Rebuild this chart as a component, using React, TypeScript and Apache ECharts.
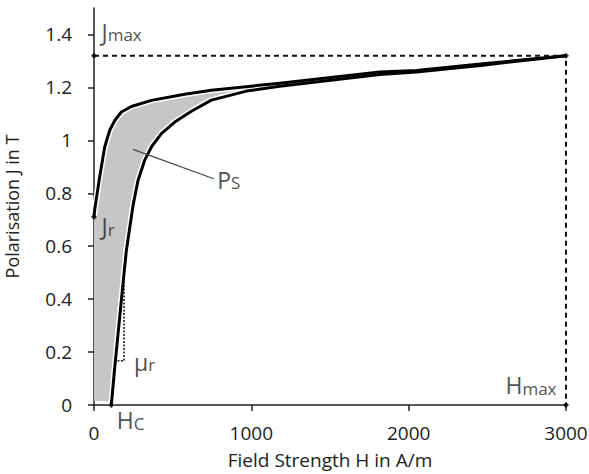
import React, { useEffect, useRef } from "react";
import * as echarts from "echarts";

// Upper (descending) branch of the loop: field strength H in A/m, polarisation J in T
const upperH = [0, 4, 36, 68, 100, 132, 174, 238, 365, 576, 746, 1180, 1816, 2049, 2471, 3000];
const upperJ = [0.71, 0.736, 0.862, 0.975, 1.038, 1.075, 1.107, 1.128, 1.151, 1.174, 1.189, 1.216, 1.258, 1.264, 1.289, 1.32];

// Lower (ascending) branch of the loop
const lowerH = [110, 132, 153, 174, 191, 206, 227, 250, 280, 322, 365, 428, 513, 619, 746, 969, 1180, 1816, 2049, 2471, 3000];
const lowerJ = [0, 0.143, 0.27, 0.396, 0.498, 0.585, 0.67, 0.76, 0.849, 0.925, 0.975, 1.025, 1.069, 1.11, 1.152, 1.186, 1.204, 1.249, 1.258, 1.284, 1.32];

// Bottom edge of the shaded area
const fillBaseH = [0, 112];
const fillBaseJ = [0.015, 0.015];

// Reference values
const Jmax = 1.32;
const Hmax = 3000;
const Jr = 0.71;
const Hc = 110;

// μr construction (dotted)
const muH = [191, 191, 150];
const muJ = [0.48, 0.167, 0.167];

// Ps leader line
const psH = [248, 761];
const psJ = [0.966, 0.855];

// Axis ticks
const yTicks = [0, 0.2, 0.4, 0.6, 0.8, 1, 1.2, 1.4];
const xTicks = [0, 1000, 2000, 3000];

const FONT = "Open Sans";
const TXT = "#222";

const zip = (a: number[], b: number[]) => a.map((v, i) => [v, b[i]]);

export default function App() {
  const ref = useRef<HTMLDivElement>(null);
  useEffect(() => {
    document.body.style.margin = "0";
    if (!ref.current) return;
    const chart = echarts.init(ref.current, undefined, { renderer: "svg" });

    const upper = zip(upperH, upperJ);
    const lower = zip(lowerH, lowerJ);
    const poly = [...upper].reverse().concat(zip(fillBaseH, fillBaseJ), lower.slice(1));

    const rich = {
      m: { fontSize: 23, lineHeight: 24, verticalAlign: "bottom", fontFamily: FONT, color: TXT },
      s: { fontSize: 17, lineHeight: 10, verticalAlign: "bottom", fontFamily: FONT, color: TXT },
    };
    const lab = (txt: string, pos: number[], align = "left") => ({
      show: true,
      formatter: txt,
      position: pos,
      align,
      verticalAlign: "top",
      color: TXT,
      fontFamily: FONT,
      rich,
    });

    const option: any = {
      animation: false,
      grid: { left: 94, right: 23, top: 8, bottom: 69, outerBoundsMode: "none" },
      xAxis: {
        type: "value",
        min: 0,
        max: 3000,
        interval: 1000,
        name: "Field Strength H in A/m",
        nameLocation: "middle",
        nameGap: 45,
        nameTextStyle: { fontFamily: FONT, fontSize: 19, color: TXT },
        axisLine: { lineStyle: { color: TXT, width: 1.5 } },
        axisTick: { show: true, length: 6, lineStyle: { color: TXT, width: 1.5 }, customValues: xTicks },
        axisLabel: {
          fontFamily: FONT,
          fontSize: 19,
          color: TXT,
          margin: 18,
          customValues: xTicks,
          formatter: (v: number) => String(v),
        },
        splitLine: { show: false },
      },
      yAxis: {
        type: "value",
        min: 0,
        max: 1.5,
        interval: 0.2,
        name: "Polarisation J in T",
        nameLocation: "middle",
        nameGap: 73,
        nameTextStyle: { fontFamily: FONT, fontSize: 18, color: TXT },
        axisLine: { show: true, lineStyle: { color: TXT, width: 1.5 } },
        axisTick: { show: true, length: 6, lineStyle: { color: TXT, width: 1.5 }, customValues: yTicks },
        axisLabel: {
          fontFamily: FONT,
          fontSize: 19,
          color: TXT,
          margin: 22,
          customValues: yTicks,
          formatter: (v: number) => String(v),
        },
        splitLine: { show: false },
      },
      series: [
        {
          type: "custom",
          z: 1,
          silent: true,
          data: poly,
          renderItem: (params: any, api: any) => {
            if (params.dataIndex !== 0) return null;
            return {
              type: "polygon",
              shape: { points: poly.map((p) => api.coord(p)) },
              style: { fill: "#c6c6c6" },
            };
          },
        },
        ...[upper, lower].map((d) => ({
          type: "line",
          z: 2,
          data: d,
          symbol: "none",
          silent: true,
          lineStyle: { color: "#fff", width: 6 },
        })),
        ...[upper, lower].map((d) => ({
          type: "line",
          z: 3,
          data: d,
          symbol: "none",
          silent: true,
          lineStyle: { color: "#000", width: 3, join: "round" },
        })),
        {
          type: "line",
          z: 4,
          data: [[0, Jmax], [Hmax, Jmax], [Hmax, 0]],
          symbol: "none",
          silent: true,
          lineStyle: { color: "#111", width: 2, type: [5, 4] },
        },
        {
          type: "line",
          z: 4,
          data: zip(muH, muJ),
          symbol: "none",
          silent: true,
          lineStyle: { color: "#111", width: 1.5, type: [2, 1.5] },
        },
        {
          type: "line",
          z: 5,
          data: zip(psH, psJ),
          symbol: "none",
          silent: true,
          lineStyle: { color: "#444", width: 1.2 },
        },
        {
          type: "scatter",
          z: 6,
          silent: true,
          symbol: "diamond",
          symbolSize: 6,
          itemStyle: { color: "#000" },
          data: [[0, Jmax], [0, Jr], [Hc, 0], [Hmax, 0], [Hmax, Jmax]],
        },
        {
          type: "scatter",
          z: 7,
          silent: true,
          symbolSize: 1,
          itemStyle: { color: "rgba(0,0,0,0)" },
          data: [
            { value: [0, Jmax], label: lab("{m|J}{s|max}", [8, -36]) },
            { value: [0, Jr], label: lab("{m|J}{s|r}", [8, -3]) },
            { value: [Hmax, 0], label: lab("{m|H}{s|max}", [-9, -32], "right") },
            { value: [Hc, 0], label: lab("{m|H}{s|C}", [6, 3]) },
            { value: [psH[1], psJ[1]], label: lab("{m|P}{s|S}", [4, -11]) },
            { value: [muH[2], muJ[2]], label: lab("{m|μ}{s|r}", [17, -11]) },
          ],
        },
      ],
    };
    chart.setOption(option);
    return () => chart.dispose();
  }, []);
  return <div ref={ref} style={{ width: 589, height: 474 }} />;
}
